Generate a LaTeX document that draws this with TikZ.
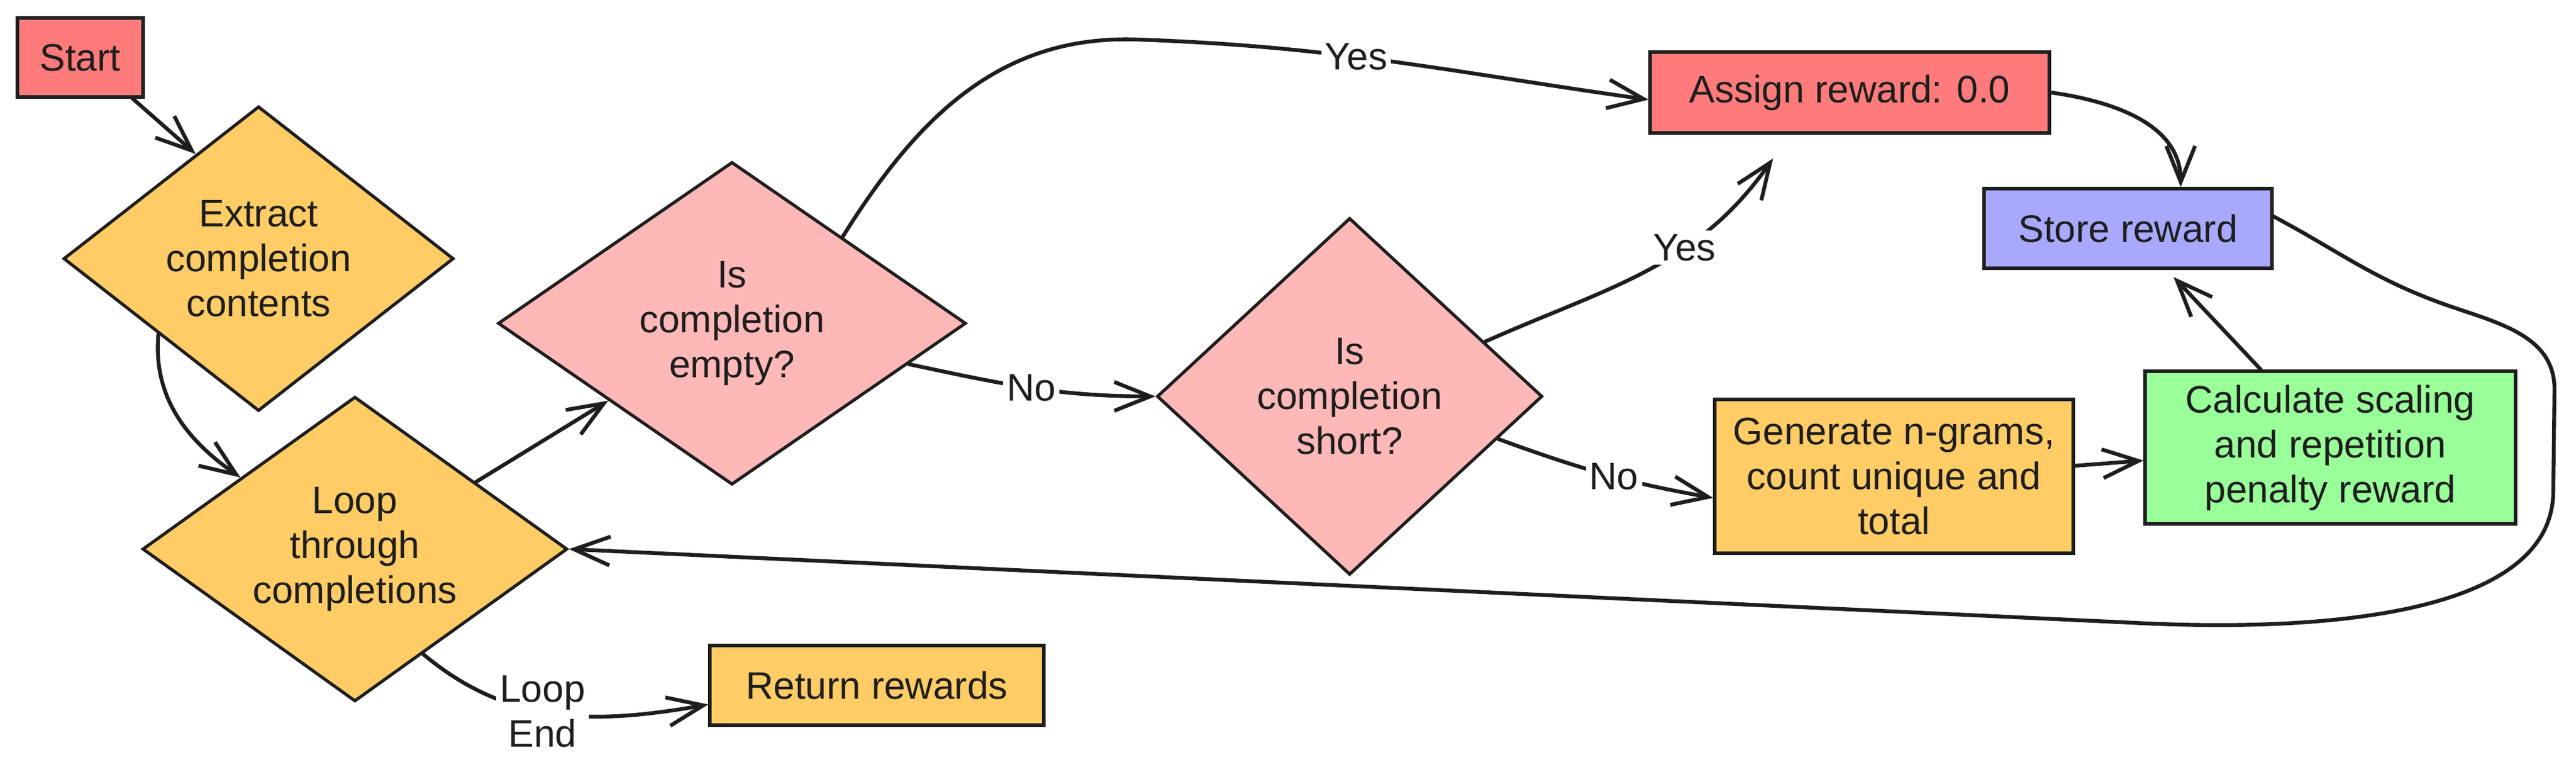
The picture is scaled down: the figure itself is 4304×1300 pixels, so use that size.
\documentclass[tikz,border=0pt]{standalone}
\usepackage{fontspec}
\setmainfont{Liberation Sans}
\usetikzlibrary{shapes.geometric,arrows.meta}
\definecolor{ink}{HTML}{1E1E1E}
\definecolor{redfill}{HTML}{FF7B7B}
\definecolor{orangefill}{HTML}{FFCC66}
\definecolor{pinkfill}{HTML}{FFB8B8}
\definecolor{bluefill}{HTML}{A8A8FF}
\definecolor{greenfill}{HTML}{99FF99}
\begin{document}
\begin{tikzpicture}[x=0.25pt,y=0.25pt,
		every node/.style={font=\fontsize{16}{18.75}\selectfont, text=ink},
		box/.style={draw=ink, line width=1.3pt, rectangle, inner sep=0pt, align=center},
		decision/.style={draw=ink, line width=1.3pt, diamond, inner sep=0pt, align=center},
		arr/.style={draw=ink, line width=1.6pt, line cap=round,
			-{Straight Barb[length=15pt,width=12pt,line width=1.6pt]}},
		lbl/.style={fill=white, inner sep=1.5pt, align=center}]
		\useasboundingbox (0,0) rectangle (4304,1300);

		% Steps
		\node[box, fill=redfill, minimum width=52.5pt, minimum height=33pt] (start) at (134,1204) {Start};
		\node[decision, fill=orangefill, aspect=1.28, minimum width=163pt, minimum height=127.25pt] (extract) at (432,868) {Extract\\completion\\contents};
		\node[decision, fill=orangefill, aspect=1.39, minimum width=177.5pt, minimum height=127.25pt] (loop) at (593,383) {Loop\\through\\completions};
		\node[decision, fill=pinkfill, aspect=1.45, minimum width=195.5pt, minimum height=134.75pt] (empty) at (1223,760) {Is\\completion\\empty?};
		\node[decision, fill=pinkfill, aspect=1.08, minimum width=161pt, minimum height=149pt] (short) at (2255,638) {Is\\completion\\short?};
		\node[box, fill=orangefill, minimum width=139.5pt, minimum height=33.25pt] (ret) at (1465,155.5) {Return rewards};
		\node[box, fill=redfill, minimum width=166.75pt, minimum height=33.75pt] (assign) at (3090.5,1145.5) {Assign reward: 0.0};
		\node[box, fill=bluefill, minimum width=120.25pt, minimum height=33.25pt] (store) at (3555.5,918.5) {Store reward};
		\node[box, fill=orangefill, minimum width=149.75pt, minimum height=64.25pt] (gen) at (3164.5,504.5) {Generate n-grams,\\count unique and\\total};
		\node[box, fill=greenfill, minimum width=154.75pt, minimum height=63.75pt] (calc) at (3893.5,552.5) {Calculate scaling\\and repetition\\penalty reward};

		% Connectors
		\coordinate (yestop) at (1900,1234);
		\coordinate (loopbend) at (4078,794);
		\coordinate (loopright) at (4268,650);
		\coordinate (loopdown) at (4266,480);
		\coordinate (loopbottom) at (3563,260);
		\draw[arr] ([xshift=-5pt]start.south east) -- (extract.121);
		\draw[arr] (extract.217) to[out=-95,in=145] (loop.148);
		\draw[arr] (loop.29) -- (empty.212);
		\draw[arr] (empty.38) to[out=58,in=178] (yestop) to[out=-2,in=172] node[lbl,pos=0.42] {Yes} ([yshift=-3pt]assign.west);
		\draw[arr] (empty.-13) to[out=-12,in=180] node[lbl,pos=0.5] {No} (short.west);
		\draw[arr] (short.22) to[out=24,in=-125] node[lbl,pos=0.64] {Yes} ([xshift=-32pt,yshift=-10pt]assign.south);
		\draw[arr] (short.-16) to[out=-20,in=170] node[lbl,pos=0.55] {No} ([yshift=-9pt]gen.west);
		\draw[arr] ([yshift=4.4pt]gen.east) -- ([yshift=-5.4pt]calc.west);
		\draw[arr] ([xshift=-29pt]calc.north) -- ([xshift=19pt,yshift=-3pt]store.south);
		\draw[arr] (assign.east) to[out=-8,in=90] ([xshift=22pt]store.north);
		\draw[arr] ([yshift=5pt]store.east) to[out=-28,in=160] (loopbend) to[out=-20,in=90] (loopright)
			-- (loopdown) to[out=-90,in=-3,looseness=0.8] (loopbottom) -- (loop.east);
		\draw[arr] (loop.-57.7) to[out=-40,in=190] node[lbl,pos=0.45] {Loop\\End} ([yshift=-8pt]ret.west);
	\end{tikzpicture}
\end{document}
